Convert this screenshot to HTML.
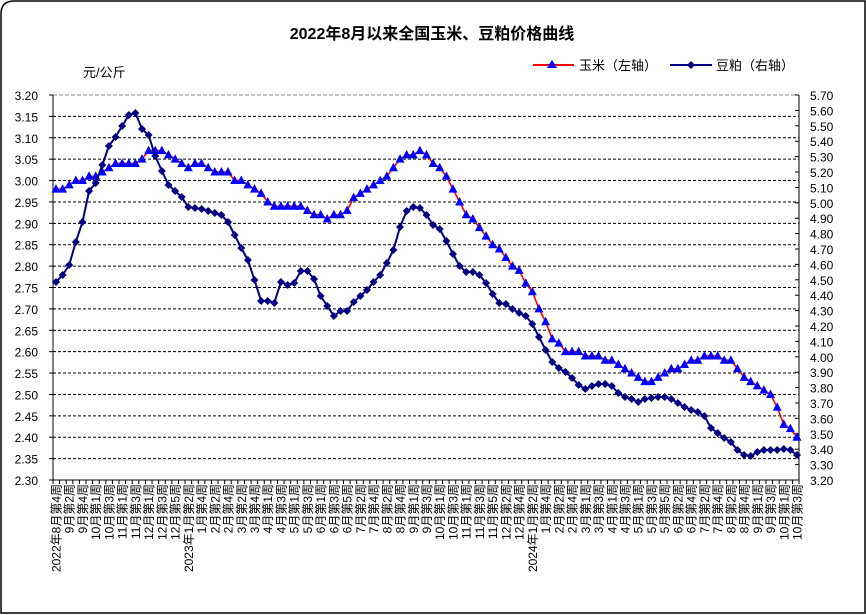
<!DOCTYPE html>
<html><head><meta charset="utf-8"><style>
body{margin:0;background:#fff;}
svg{display:block;font-family:"Liberation Sans","Noto Sans CJK SC",sans-serif;}
</style></head><body>
<svg id="s" width="866" height="615" xmlns="http://www.w3.org/2000/svg">
<path d="M14 1 H865 V613 H1 V14 Q1 1 14 1 Z" fill="#fff" stroke="#000" stroke-width="1.5"/>
<text x="432" y="39" font-size="16" font-weight="bold" text-anchor="middle">2022年8月以来全国玉米、豆粕价格曲线</text>
<text x="83" y="77" font-size="13">元/公斤</text>
<line x1="533" y1="65" x2="574" y2="65" stroke="#f00" stroke-width="2"/>
<polygon points="552,60 547,68 557,68" fill="#00f"/>
<text x="579" y="70" font-size="13">玉米（左轴）</text>
<line x1="670" y1="65" x2="712" y2="65" stroke="#000080" stroke-width="2"/>
<polygon points="691,61 695,65 691,69 687,65" fill="#000080"/>
<text x="716" y="70" font-size="13">豆粕（右轴）</text>
<g id="g"></g>
</svg>
<script>
var g=document.getElementById('g'),h='';
var L=53,R=799,T=95,B=480;
function yl(v){return T+(3.20-v)/0.90*(B-T);}
// grid
for(var i=0;i<=18;i++){var y=T+i*(B-T)/18;
 if(i>0&&i<18)h+='<line x1="'+L+'" y1="'+y+'" x2="'+R+'" y2="'+y+'" stroke="#000" stroke-dasharray="3,2" stroke-width="1"/>';
 h+='<line x1="'+(L-4)+'" y1="'+y+'" x2="'+L+'" y2="'+y+'" stroke="#000"/>';
 h+='<text x="38" y="'+(y+5)+'" font-size="12" text-anchor="end">'+(3.20-i*0.05).toFixed(2)+'</text>';}
h+='<line x1="'+L+'" y1="'+T+'" x2="'+R+'" y2="'+T+'" stroke="#888" stroke-dasharray="4,2"/>';
for(var i=0;i<=25;i++){var y=T+i*(B-T)/25;
 h+='<line x1="'+(R-4)+'" y1="'+y+'" x2="'+R+'" y2="'+y+'" stroke="#000"/>';
 h+='<text x="810" y="'+(y+5)+'" font-size="12">'+(5.70-i*0.1).toFixed(2)+'</text>';}
h+='<line x1="'+L+'" y1="'+T+'" x2="'+L+'" y2="'+B+'" stroke="#000"/>';
h+='<line x1="'+R+'" y1="'+T+'" x2="'+R+'" y2="'+B+'" stroke="#000"/>';
h+='<line x1="'+L+'" y1="'+B+'" x2="'+R+'" y2="'+B+'" stroke="#000"/>';
var N=113,cw=(R-L)/N;
for(var i=0;i<=N;i++){var x=L+i*cw;h+='<line x1="'+x+'" y1="'+B+'" x2="'+x+'" y2="'+(B+4)+'" stroke="#000"/>';}
function X(i){return 56+i*(797-56)/112;}
var labs=["2022年8月第4周","9月第2周","9月第4周","10月第1周","10月第3周","11月第1周","11月第3周","12月第1周","12月第3周","12月第5周","2023年1月第2周","1月第4周","2月第2周","2月第4周","3月第2周","3月第4周","4月第1周","4月第3周","5月第1周","5月第3周","6月第1周","6月第3周","6月第5周","7月第2周","7月第4周","8月第2周","8月第4周","9月第1周","9月第3周","10月第1周","10月第3周","11月第1周","11月第3周","11月第5周","12月第2周","12月第4周","2024年1月第2周","1月第4周","2月第2周","2月第4周","3月第1周","3月第3周","4月第1周","4月第3周","5月第1周","5月第3周","5月第5周","6月第2周","6月第4周","7月第2周","7月第4周","8月第2周","8月第4周","9月第1周","9月第3周","10月第1周","10月第3周"];
for(var k=0;k<labs.length;k++){var x=X(2*k)+4.5;
 h+='<text transform="translate('+x+',484) rotate(-90)" font-size="12" text-anchor="end">'+labs[k]+'</text>';}
var corn=[2.98,2.98,2.99,3.00,3.00,3.01,3.01,3.02,3.03,3.04,3.04,3.04,3.04,3.05,3.07,3.07,3.07,3.06,3.05,3.04,3.03,3.04,3.04,3.03,3.02,3.02,3.02,3.00,3.00,2.99,2.98,2.97,2.95,2.94,2.94,2.94,2.94,2.94,2.93,2.92,2.92,2.91,2.92,2.92,2.93,2.96,2.97,2.98,2.99,3.00,3.01,3.03,3.05,3.06,3.06,3.07,3.06,3.04,3.03,3.01,2.98,2.95,2.92,2.91,2.89,2.87,2.85,2.84,2.82,2.80,2.79,2.76,2.74,2.70,2.67,2.63,2.62,2.60,2.60,2.60,2.59,2.59,2.59,2.58,2.58,2.57,2.56,2.55,2.54,2.53,2.53,2.54,2.55,2.56,2.56,2.57,2.58,2.58,2.59,2.59,2.59,2.58,2.58,2.56,2.54,2.53,2.52,2.51,2.50,2.47,2.43,2.42,2.40];
var soy=[282,275,265,242,222,191,183,165,146,137,126,115,113,129,135,156,171,185,191,197,207,208,209,211,213,215,222,235,248,260,280,301,301,303,282,285,283,271,271,279,296,306,316,311,311,302,296,290,282,275,263,250,227,211,207,208,215,225,229,241,254,266,272,272,275,283,294,303,304,309,313,316,324,337,350,362,368,372,378,385,389,386,384,384,386,393,397,399,402,399,398,397,397,399,403,407,410,412,416,428,433,438,442,450,455,456,452,450,450,450,449,450,455];
var p='';for(var i=0;i<corn.length;i++)p+=(i?'L':'M')+X(i).toFixed(1)+' '+yl(corn[i]).toFixed(1);
h+='<path d="'+p+'" fill="none" stroke="#f00" stroke-width="1.6"/>';
for(var i=0;i<corn.length;i++){var x=X(i),y=yl(corn[i]);h+='<polygon points="'+x+','+(y-5)+' '+(x-4.5)+','+(y+3.5)+' '+(x+4.5)+','+(y+3.5)+'" fill="#00f"/>';}
p='';for(var i=0;i<soy.length;i++)p+=(i?'L':'M')+X(i).toFixed(1)+' '+soy[i];
h+='<path d="'+p+'" fill="none" stroke="#000080" stroke-width="2"/>';
for(var i=0;i<soy.length;i++){var x=X(i),y=soy[i];h+='<polygon points="'+x+','+(y-4)+' '+(x+4)+','+y+' '+x+','+(y+4)+' '+(x-4)+','+y+'" fill="#000080"/>';}
g.innerHTML=h;
</script>
</body></html>
